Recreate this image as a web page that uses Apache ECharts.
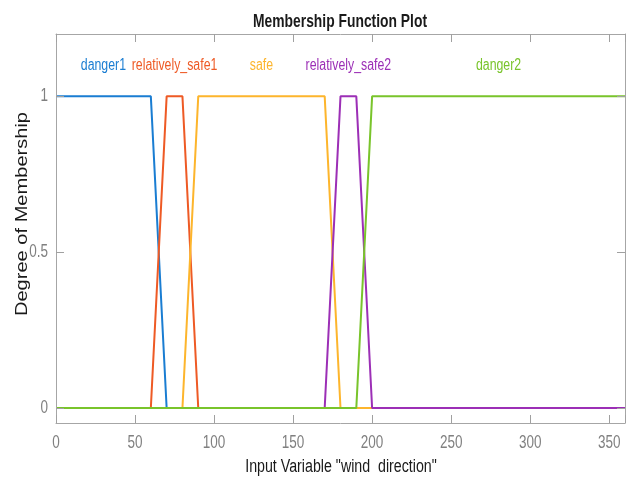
<!DOCTYPE html>
<html>
<head>
<meta charset="utf-8">
<title>Membership Function Plot</title>
<script src="https://cdn.jsdelivr.net/npm/echarts@6/dist/echarts.min.js"></script>
<style>
  html, body { margin: 0; padding: 0; background: #fff; }
  #chart { width: 633px; height: 479px; }
</style>
</head>
<body>
<div id="chart"></div>
<script>
// Trapezoidal membership functions over the wind direction range (degrees)
var xTicks = [0, 50, 100, 150, 200, 250, 300, 350];
var yTicks = [0, 0.5, 1];

var mfNames = ['danger1', 'relatively_safe1', 'safe', 'relatively_safe2', 'danger2'];

// Breakpoints (x) and membership degrees (y) of each function
var danger1X = [0, 60, 70, 360];
var danger1Y = [1, 1, 0, 0];
var relSafe1X = [0, 60, 70, 80, 90, 360];
var relSafe1Y = [0, 0, 1, 1, 0, 0];
var safeX = [0, 80, 90, 170, 180, 360];
var safeY = [0, 0, 1, 1, 0, 0];
var relSafe2X = [0, 170, 180, 190, 200, 360];
var relSafe2Y = [0, 0, 1, 1, 0, 0];
var danger2X = [0, 190, 200, 360];
var danger2Y = [0, 0, 1, 1];

// Where each function's name is written (data coordinates)
var labelX = [30, 75, 130, 185, 280];
var labelY = [1.1, 1.1, 1.1, 1.1, 1.1];

var colors = ['#1a7dd2', '#ee5a25', '#fdb52c', '#9c2fb6', '#79c42b'];

var sans = '"Liberation Sans", Arial, sans-serif';

function pairs(xs, ys) {
  return xs.map(function (x, i) { return [x, ys[i]]; });
}

var curves = [
  pairs(danger1X, danger1Y),
  pairs(relSafe1X, relSafe1Y),
  pairs(safeX, safeY),
  pairs(relSafe2X, relSafe2Y),
  pairs(danger2X, danger2Y)
];

var axisGray = '#a6a6a6';
var tickGray = '#a0a0a0';
var labelGray = '#808080';

var series = curves.map(function (d, i) {
  return {
    name: mfNames[i],
    type: 'line',
    data: d,
    showSymbol: false,
    symbol: 'none',
    animation: false,
    lineStyle: { color: colors[i], width: 2 },
    z: 2 + i
  };
});

// Box axes: lines on all four sides, ticks pointing into the plot
function frameAxis(position, min, max, ticks) {
  var tick = { show: true, inside: true, length: 8, lineStyle: { color: tickGray, width: 1 } };
  var ax = {
    type: 'value',
    position: position,
    min: min,
    max: max,
    axisLine: { show: true, onZero: false, lineStyle: { color: axisGray, width: 1 } },
    axisTick: tick,
    axisLabel: { show: false },
    splitLine: { show: false },
    z: 10
  };
  if (ticks) {
    tick.customValues = ticks;
  } else {
    ax.interval = 50;
  }
  return ax;
}

var chart = echarts.init(document.getElementById('chart'));
chart.setOption({
  backgroundColor: '#ffffff',
  animation: false,
  grid: { left: 56, right: 8, top: 34, bottom: 56, show: false, outerBoundsMode: 'none', containLabel: false },
  xAxis: [
    frameAxis('bottom', 0, 360, null),
    frameAxis('top', 0, 360, null)
  ],
  yAxis: [
    frameAxis('left', -0.048, 1.2, yTicks),
    frameAxis('right', -0.048, 1.2, yTicks)
  ],
  series: series
});

// Narrow text: drawn as graphic text squeezed horizontally
function textEl(str, x, y, opts) {
  return {
    type: 'text',
    x: x,
    y: y,
    rotation: opts.rotation || 0,
    scaleX: opts.scaleX || 1,
    silent: true,
    z: 100,
    style: {
      text: str,
      fill: opts.color,
      fontFamily: sans,
      fontSize: opts.size,
      fontWeight: opts.bold ? 'bold' : 'normal',
      align: opts.align || 'center',
      verticalAlign: 'middle',
      textAlign: opts.align || 'center',
      textVerticalAlign: 'middle'
    }
  };
}

var texts = [];
texts.push(textEl('Membership Function Plot', 340, 22, { color: '#1a1a1a', size: 18, bold: true, scaleX: 0.77 }));
texts.push(textEl('Input Variable "wind  direction"', 341, 467, { color: '#1a1a1a', size: 18, scaleX: 0.79 }));
texts.push(textEl('Degree of Membership', 22, 214, { color: '#1a1a1a', size: 17, scaleX: 1.18, rotation: Math.PI / 2 }));

// Tick labels placed through the axis scales
xTicks.forEach(function (v) {
  var p = chart.convertToPixel({ xAxisIndex: 0, yAxisIndex: 0 }, [v, 0]);
  texts.push(textEl(String(v), p[0], 443, { color: labelGray, size: 18, scaleX: 0.75 }));
});
yTicks.forEach(function (v) {
  var p = chart.convertToPixel({ xAxisIndex: 0, yAxisIndex: 0 }, [0, v]);
  texts.push(textEl(String(v), 48, p[1], { color: labelGray, size: 18, scaleX: 0.75, align: 'right' }));
});

labelX.forEach(function (x, i) {
  var p = chart.convertToPixel({ xAxisIndex: 0, yAxisIndex: 0 }, [x, labelY[i]]);
  texts.push(textEl(mfNames[i], p[0], p[1], { color: colors[i], size: 16, scaleX: 0.77 }));
});

chart.setOption({ graphic: { elements: texts } });
</script>
</body>
</html>
